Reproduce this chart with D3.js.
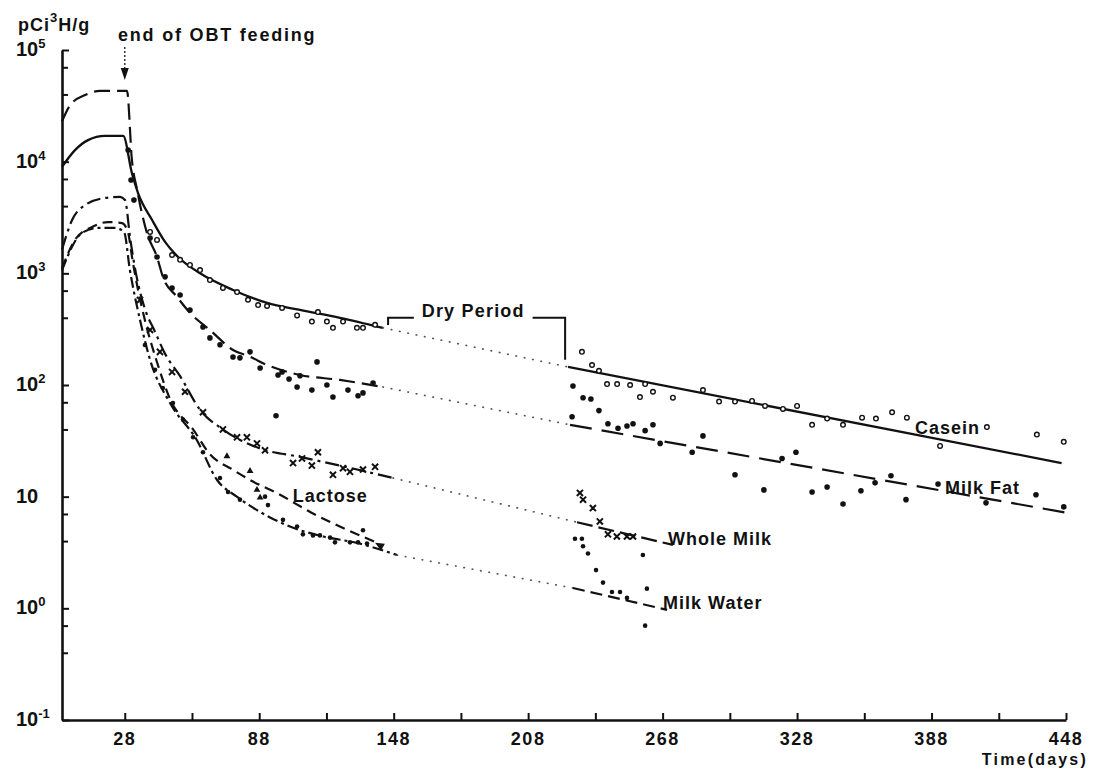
<!DOCTYPE html>
<html>
<head>
<meta charset="utf-8">
<script src="https://cdn.jsdelivr.net/npm/d3@7"></script>
<style>
body { margin: 0; background: #fff; }
svg text { font-family: "Liberation Sans", Arial, sans-serif; font-weight: bold; fill: #111; }
</style>
</head>
<body>
<div id="chart"></div>
<script>
// fitted curves, [day, pCi 3H/g]
var caseinEarly = [[0,9000],[5.8,12700],[11.6,15600],[19.2,17000],[27.3,17000],[31.2,7900],[33.9,5250],[40.2,3000],[46,1910],[51.8,1400],[61.6,1000],[76.3,710],[91.5,543],[106.2,470],[124,400],[143.2,325]];
var caseinGap = [[143.2,325],[225.8,145]];
var caseinLate = [[225.8,145],[446,20]];

var milkFatEarly = [[0,23000],[3.6,32000],[10.3,39500],[17,43000],[29,43000],[31.2,10300],[33.5,5600],[37.9,2300],[42.4,1400],[45,930],[51.3,616],[57.1,443],[66,311],[76.3,206],[83.9,179],[91.5,151],[106.2,123],[124,111],[143.2,96]];
var milkFatGap = [[143.2,96],[226.7,44]];
var milkFatLate = [[226.7,44],[448,7.2]];

var wholeMilkEarly = [[0,1630],[4.5,3000],[10.3,4090],[19.2,4730],[25.9,4840],[28.1,4540],[30.5,2000],[33,1000],[37,480],[41.5,300],[46,190],[52.7,120],[61.6,60],[71.8,40],[88.4,27],[106.2,22.7],[128.5,18.1],[147.7,14.7]];
var wholeMilkGap = [[147.7,14.7],[229.8,5.9]];
var wholeMilkLate = [[229.8,5.9],[272.6,3.7]];

var lactoseEarly = [[0,1117],[5.8,1990],[13.4,2600],[20.5,2880],[26.8,2820],[29.5,2300],[31.5,1300],[34,700],[37,380],[42.4,160],[48.2,75],[58.5,40],[66,24],[76.3,17.4],[83.9,14.1],[97.3,10.4],[110.7,7.3],[124,5.4],[139.7,3.94]];

var milkWaterEarly = [[0,1070],[8.9,2300],[16,2550],[23.7,2550],[27.7,2340],[30.3,1070],[34.8,383],[39.3,168],[48.2,69],[60.2,32],[69.2,14.1],[78,10],[88.4,7.3],[101.7,5.4],[116.5,4.4],[131.6,3.85],[149.5,3.0]];
var milkWaterGap = [[149.5,3.0],[228,1.52]];
var milkWaterLate = [[228,1.52],[270,0.97]];

// measured points
var caseinPts = [[39.3,2350],[42.4,1990],[49.1,1460],[52.7,1320],[57.1,1190],[61.6,1070],[66,870],[71.8,740],[78.1,680],[83,580],[87.5,520],[91.5,510],[98.2,490],[104.9,420],[111.5,370],[114.2,450],[118.2,370],[120.9,325],[125.4,370],[131.6,325],[134.3,325],[139.7,346],
  [232,198],[236.5,151],[239.6,134],[243.2,102],[247.7,102],[253.5,100],[257.9,78],[260.2,102],[263.7,87],[272.6,77],[286,90],[293.2,71],[300.3,71],[307.9,72],[313.7,65],[321.7,61],[328,65],[334.7,44],[341.4,50],[348.5,44],[357,51],[363.2,50],[370.4,57],[377,51],[391.8,28.5],[412.7,42],[435,36],[447,31]];
var milkFatPts = [[29.5,12700],[30.8,6860],[32.1,4540],[39.3,2070],[42.4,1400],[46,930],[49.1,740],[52.7,640],[57.1,470],[62.9,331],[66,264],[70.5,229],[76.3,178],[79.4,175],[83.9,198],[88.4,142],[96.4,123],[98.2,131],[101.3,113],[104.9,96],[106.2,121],[111.5,90],[113.8,161],[118.2,100],[120.9,78],[127.6,90],[132.1,80],[134.3,85],[138.8,104],[95.5,53],
  [228,98],[232.5,77],[236,75],[239.6,59],[227.6,52],[243.6,45],[248.1,41],[252.1,43],[254.8,45],[260.2,39],[263.7,44],[266.9,30],[281.2,25],[286,35],[300.3,15.7],[321.3,22],[327.5,25],[313.2,11.5],[334.7,11],[341.4,12.2],[348.5,8.6],[356.5,11.3],[362.8,13.3],[369.9,15.4],[376.6,9.4],[390.9,13],[412.3,8.8],[434.6,10.4],[447,8.1]];
var wholeMilkPts = [[34.8,578],[39.3,311],[43.7,198],[49.1,131],[54.9,87],[62.9,57],[71.8,40],[78.1,34],[82.5,34],[87,30],[90.6,26],[103.1,20],[107.1,22],[111.5,19],[114.2,25],[120.9,15.7],[125.4,18],[128.5,16.7],[134.3,17.5],[139.7,18.5],
  [231.1,10.8],[232.5,9.4],[236.9,7.9],[240,6.0],[243.6,4.6],[247.6,4.4],[252.1,4.4],[254.8,4.4]];
var milkWaterPts = [[37,228],[41.5,137],[45,94],[49.5,69],[54,49],[58.5,34],[62.9,25],[70.5,14.7],[74.1,11],[79.4,9.4],[90.6,10],[91.9,8.4],[98.6,6.2],[104.9,5.4],[107.5,4.6],[112,4.5],[115.1,4.5],[119.6,4.3],[121.8,3.9],[128.5,3.9],[132.1,3.9],[134.3,5.0],[136.1,3.8],
  [228.9,4.2],[232,4.2],[232.5,3.6],[234.7,3.1],[238.3,2.2],[241.4,1.7],[245.4,1.4],[249,1.4],[252.1,1.24],[259.2,3.0],[261,1.5],[260.2,0.70]];
var lactosePts = [[73.6,23],[83.9,17],[87,11.5],[88.4,9.8]];

var xTicks = d3.range(28, 449, 30);
var xLabels = d3.range(28, 449, 60);
var yExponents = [-1, 0, 1, 2, 3, 4, 5];
var yMinorFactors = [4, 7];

var seriesLabels = [
    { text: "Casein", day: 380.6, value: 36.5 },
    { text: "Milk Fat", day: 394, value: 10.5 },
    { text: "Whole Milk", day: 270.4, value: 3.7 },
    { text: "Milk Water", day: 268.2, value: 0.99 },
    { text: "Lactose", day: 103, value: 9.0 }
];
var dryPeriod = { start: 145.5, end: 224.5, top: 400, leftFoot: 345, rightFoot: 168, gapFrom: 157, gapTo: 210 };
var feedingEnd = 28;

var width = 1095, height = 768;

var x = d3.scaleLinear().domain([0, 448]).range([62, 1066]);
var y = d3.scaleLog().domain([0.1, 1e5]).range([720, 50]);

var svg = d3.select("#chart").append("svg")
    .attr("width", width)
    .attr("height", height);

// y axis
var majorY = yExponents.map(function(k) { return Math.pow(10, k); });
var minorY = [];
majorY.forEach(function(v) {
    if (v < 1e5) yMinorFactors.forEach(function(f) { minorY.push(v * f); });
});

svg.append("g").attr("transform", "translate(62,0)")
    .call(d3.axisRight(y).tickValues(majorY).tickSize(7).tickSizeOuter(0).tickFormat(""));
svg.append("g").attr("transform", "translate(62,0)")
    .call(d3.axisRight(y).tickValues(minorY).tickSize(6).tickSizeOuter(0).tickFormat(""))
    .select(".domain").remove();

// x axis
svg.append("g").attr("transform", "translate(0,720)")
    .call(d3.axisBottom(x).tickValues(xTicks).tickSizeInner(-7).tickSizeOuter(0).tickFormat(""));

svg.selectAll(".domain").attr("stroke", "#111").attr("stroke-width", 2.6);
svg.selectAll(".tick line").attr("stroke", "#111").attr("stroke-width", 2);

svg.append("g").selectAll("text")
    .data(xLabels)
    .enter().append("text")
    .attr("x", function(d) { return x(d); })
    .attr("y", 745)
    .attr("text-anchor", "middle")
    .style("font-size", "18px")
    .style("letter-spacing", "1.5px")
    .text(function(d) { return d; });

var yl = svg.append("g").selectAll("text")
    .data(yExponents)
    .enter().append("text")
    .attr("x", 16)
    .attr("y", function(k) { return y(Math.pow(10, k)) + 6; })
    .style("font-size", "20px");
yl.append("tspan").text("10");
yl.filter(function(k) { return k != 1; })
    .append("tspan")
    .attr("dy", -8)
    .style("font-size", "13px")
    .text(function(k) { return k; });

var unit = svg.append("text").attr("x", 18).attr("y", 31)
    .style("font-size", "18px").style("letter-spacing", "1px");
unit.append("tspan").text("pCi");
unit.append("tspan").attr("dy", -9).style("font-size", "13px").text("3");
unit.append("tspan").attr("dy", 9).text("H/g");

svg.append("text")
    .attr("x", 1088).attr("y", 765)
    .attr("text-anchor", "end")
    .style("font-size", "16px")
    .style("letter-spacing", "2.2px")
    .text("Time(days)");

// end of feeding arrow
svg.append("text")
    .attr("x", 118).attr("y", 41)
    .style("font-size", "18px")
    .style("letter-spacing", "1.8px")
    .text("end of OBT feeding");
svg.append("line")
    .attr("x1", x(feedingEnd)).attr("x2", x(feedingEnd))
    .attr("y1", 47).attr("y2", 70)
    .attr("stroke", "#333").attr("stroke-width", 1.5)
    .attr("stroke-dasharray", "2,2");
svg.append("path")
    .attr("d", "M" + (x(feedingEnd) - 4) + ",68L" + (x(feedingEnd) + 4) + ",68L" + x(feedingEnd) + ",80Z")
    .attr("fill", "#111");

// curves
var line = d3.line()
    .x(function(d) { return x(d[0]); })
    .y(function(d) { return y(d[1]); })
    .curve(d3.curveMonotoneX);

function drawLine(data, dash, w) {
    svg.append("path")
        .datum(data)
        .attr("d", line)
        .attr("fill", "none")
        .attr("stroke", "#111")
        .attr("stroke-width", w || 2.2)
        .attr("stroke-dasharray", dash)
        .attr("stroke-linecap", "butt");
}
function drawDots(data) {
    svg.append("path")
        .datum(data)
        .attr("d", line)
        .attr("fill", "none")
        .attr("stroke", "#555")
        .attr("stroke-width", 1.7)
        .attr("stroke-linecap", "round")
        .attr("stroke-dasharray", "0.5,8");
}

drawLine(caseinEarly, null, 2.3);
drawDots(caseinGap);
drawLine(caseinLate, null, 2.3);

drawLine(milkFatEarly, "16,7");
drawDots(milkFatGap);
drawLine(milkFatLate, "22,10");

drawLine(wholeMilkEarly, "14,5,3,5");
drawDots(wholeMilkGap);
drawLine(wholeMilkLate, "16,6");

drawLine(lactoseEarly, "10,6");

drawLine(milkWaterEarly, "11,4,3,4");
drawDots(milkWaterGap);
drawLine(milkWaterLate, "12,6");

// small arrow at the end of the lower curves
var arrowEnd = lactoseEarly[lactoseEarly.length - 1];
var tail = milkWaterEarly[milkWaterEarly.length - 1];
var ax = x(arrowEnd[0]), ay = y(arrowEnd[1]) + 1;
var ang = Math.atan2(y(tail[1]) - ay, x(tail[0]) - ax);
svg.append("path")
    .attr("d", "M0,0L9,-4L9,4Z")
    .attr("transform", "translate(" + ax + "," + ay + ") rotate(" + (ang * 180 / Math.PI) + ")")
    .attr("fill", "#111");

// points
svg.append("g").selectAll("circle")
    .data(caseinPts)
    .enter().append("circle")
    .attr("cx", function(d) { return x(d[0]); })
    .attr("cy", function(d) { return y(d[1]); })
    .attr("r", 2.3)
    .attr("fill", "#fff")
    .attr("stroke", "#111")
    .attr("stroke-width", 1.4);

svg.append("g").selectAll("circle")
    .data(milkFatPts)
    .enter().append("circle")
    .attr("cx", function(d) { return x(d[0]); })
    .attr("cy", function(d) { return y(d[1]); })
    .attr("r", 2.8)
    .attr("fill", "#111");

svg.append("g").selectAll("path")
    .data(wholeMilkPts)
    .enter().append("path")
    .attr("d", d3.symbol().type(d3.symbolX).size(26))
    .attr("transform", function(d) { return "translate(" + x(d[0]) + "," + y(d[1]) + ")"; })
    .attr("stroke", "#111")
    .attr("stroke-width", 2);

svg.append("g").selectAll("circle")
    .data(milkWaterPts)
    .enter().append("circle")
    .attr("cx", function(d) { return x(d[0]); })
    .attr("cy", function(d) { return y(d[1]); })
    .attr("r", 2.3)
    .attr("fill", "#111");

svg.append("g").selectAll("path")
    .data(lactosePts)
    .enter().append("path")
    .attr("d", d3.symbol().type(d3.symbolTriangle).size(20))
    .attr("transform", function(d) { return "translate(" + x(d[0]) + "," + y(d[1]) + ")"; })
    .attr("fill", "#111");

// dry period bracket
svg.append("path")
    .attr("d", "M" + x(dryPeriod.start) + "," + y(dryPeriod.leftFoot) +
        "V" + y(dryPeriod.top) + "H" + x(dryPeriod.gapFrom) +
        "M" + x(dryPeriod.gapTo) + "," + y(dryPeriod.top) +
        "H" + x(dryPeriod.end) + "V" + y(dryPeriod.rightFoot))
    .attr("fill", "none")
    .attr("stroke", "#111")
    .attr("stroke-width", 2);
svg.append("text")
    .attr("x", x((dryPeriod.gapFrom + dryPeriod.gapTo) / 2))
    .attr("y", y(dryPeriod.top * 1.02))
    .attr("text-anchor", "middle")
    .style("font-size", "18px")
    .style("letter-spacing", "1.2px")
    .text("Dry Period");

// series labels
svg.append("g").selectAll("text")
    .data(seriesLabels)
    .enter().append("text")
    .attr("x", function(d) { return x(d.day); })
    .attr("y", function(d) { return y(d.value); })
    .style("font-size", "18px")
    .style("letter-spacing", "1px")
    .text(function(d) { return d.text; });
</script>
</body>
</html>
